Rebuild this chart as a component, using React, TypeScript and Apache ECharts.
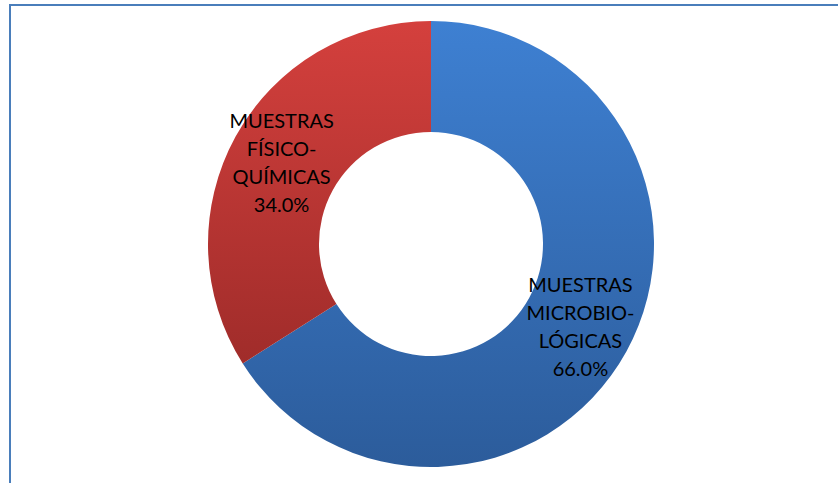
import React, { useEffect, useRef } from "react";
import * as echarts from "echarts";

const categories = ["MUESTRAS\nMICROBIO-\nLÓGICAS", "MUESTRAS\nFÍSICO-\nQUÍMICAS"];
const values = [66.0, 34.0];
const sliceColors = [
  ["#3e80d2", "#2c5c9b"],
  ["#d4403d", "#a02c2a"],
];

export default function App() {
  const ref = useRef<HTMLDivElement>(null);
  useEffect(() => {
    if (!ref.current) return;
    const chart = echarts.init(ref.current, undefined, { renderer: "svg" });
    chart.setOption({
      animation: false,
      backgroundColor: "#ffffff",
      graphic: [
        {
          type: "rect",
          shape: { x: 10, y: 5, width: 900, height: 600 },
          style: { fill: "none", stroke: "#4a7ebb", lineWidth: 2 },
          silent: true,
        },
      ],
      series: [
        {
          type: "pie",
          center: [431, 244],
          radius: [112, 223],
          startAngle: 90,
          clockwise: true,
          avoidLabelOverlap: false,
          label: {
            show: true,
            position: "inside",
            fontFamily: "Lato",
            fontSize: 20,
            lineHeight: 28,
            color: "#000000",
            formatter: (p: any) => `${p.name}\n${p.value.toFixed(1)}%`,
          },
          labelLine: { show: false },
          data: categories.map((name, i) => ({
            name,
            value: values[i],
            itemStyle: {
              color: {
                type: "linear",
                x: 0,
                y: 0,
                x2: 0,
                y2: 1,
                colorStops: [
                  { offset: 0, color: sliceColors[i][0] },
                  { offset: 1, color: sliceColors[i][1] },
                ],
              },
            },
          })),
        },
      ],
    });
    return () => chart.dispose();
  }, []);
  return (
    <div
      ref={ref}
      style={{ position: "absolute", left: 0, top: 0, width: 838, height: 483 }}
    />
  );
}
